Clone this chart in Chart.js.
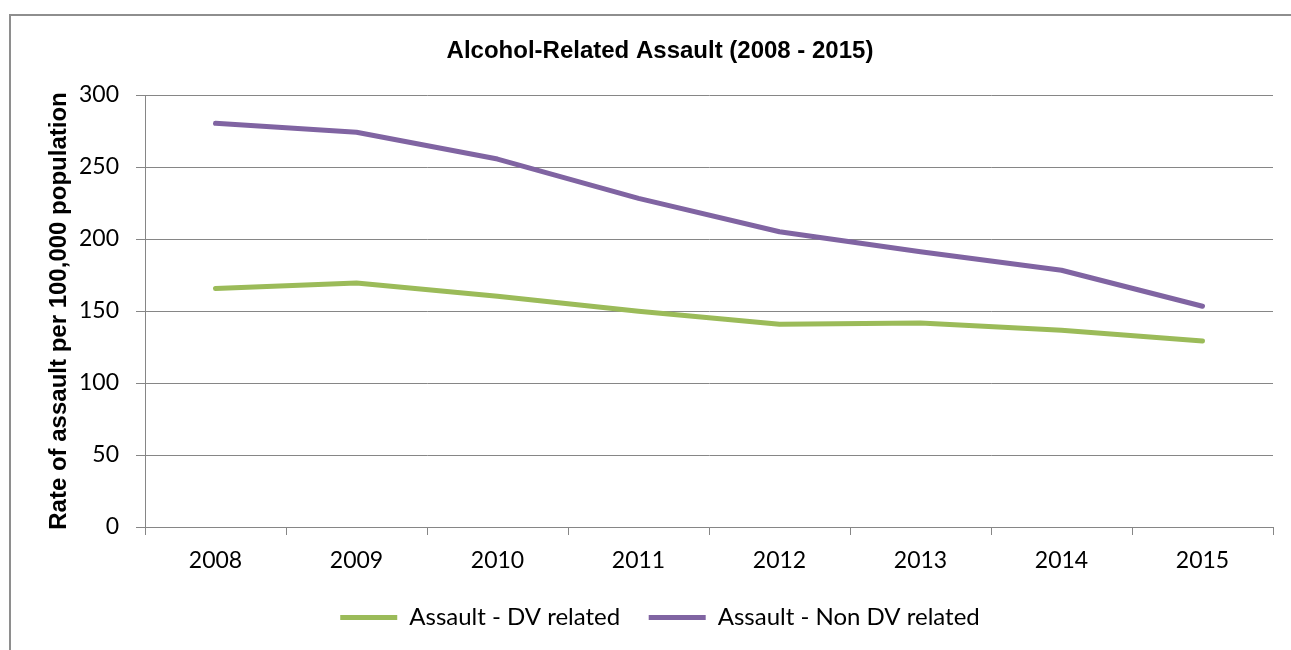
<!DOCTYPE html>
<html>
<head>
<meta charset="utf-8">
<script src="https://cdn.jsdelivr.net/npm/chart.js@4/dist/chart.umd.min.js"></script>
<style>
  html, body { margin: 0; padding: 0; background: #ffffff; overflow: hidden; }
  #wrap { position: relative; width: 1291px; height: 650px; }
  #frame { position: absolute; left: 9px; top: 14px; width: 1400px; height: 700px;
           border-left: 2px solid #8e8e8e; border-top: 2px solid #8e8e8e; box-sizing: border-box; }
  #c { position: absolute; left: 0; top: 0; }
</style>
</head>
<body>
<div id="wrap">
  <div id="frame"></div>
  <canvas id="c" width="1291" height="650"></canvas>
</div>
<script>
const categories = ['2008', '2009', '2010', '2011', '2012', '2013', '2014', '2015'];
const dvRelated = [165.6, 169.5, 160.3, 149.8, 140.8, 141.7, 136.6, 129.2];
const nonDvRelated = [280.3, 274.1, 255.5, 228.2, 205.0, 191.1, 178.3, 153.3];
const seriesNames = ['Assault - DV related', 'Assault - Non DV related'];
const chartTitle = 'Alcohol-Related Assault (2008 - 2015)';
const yAxisTitle = 'Rate of assault per 100,000 population';

const GRID = '#868686';
const tickFont = { family: 'Lato, "Open Sans", sans-serif', size: 23 };
const legendFont = { family: 'Lato, "Open Sans", sans-serif', size: 24 };

new Chart(document.getElementById('c'), {
  type: 'line',
  data: {
    labels: categories,
    datasets: [
      { label: seriesNames[0], data: dvRelated, borderColor: '#9BBB59', backgroundColor: '#9BBB59',
        borderWidth: 5, pointRadius: 0, pointHoverRadius: 0, tension: 0,
        borderCapStyle: 'round', borderJoinStyle: 'round' },
      { label: seriesNames[1], data: nonDvRelated, borderColor: '#8064A2', backgroundColor: '#8064A2',
        borderWidth: 5, pointRadius: 0, pointHoverRadius: 0, tension: 0,
        borderCapStyle: 'round', borderJoinStyle: 'round' }
    ]
  },
  options: {
    responsive: false,
    animation: false,
    events: [],
    layout: { padding: { left: 47, right: 18, top: 0, bottom: 10.5 } },
    plugins: {
      title: {
        display: true, text: chartTitle, color: '#000',
        font: { family: '"Liberation Sans", Arial, sans-serif', size: 24, weight: 'bold', lineHeight: 1.2 },
        padding: { top: 36.6, bottom: 29.6 }
      },
      legend: {
        display: true, position: 'bottom',
        labels: {
          color: '#000', font: legendFont, padding: 28.5,
          usePointStyle: true, pointStyle: 'line', pointStyleWidth: 57, boxWidth: 57
        }
      },
      tooltip: { enabled: false }
    },
    scales: {
      x: {
        type: 'category', offset: true,
        grid: { display: true, offset: true, drawOnChartArea: false, drawTicks: true, tickLength: 8, color: GRID, lineWidth: 1 },
        border: { display: true, color: GRID, width: 1 },
        ticks: { color: '#000', font: tickFont, padding: 12, maxRotation: 0, autoSkip: false },
        afterFit: s => { s.height = 50; }
      },
      y: {
        min: 0, max: 300,
        grid: { display: true, drawOnChartArea: true, drawTicks: true, tickLength: 9, color: GRID, lineWidth: 1 },
        border: { display: true, color: GRID, width: 1 },
        ticks: { stepSize: 50, color: '#000', font: tickFont, padding: 17 },
        title: {
          display: true, text: yAxisTitle, color: '#000',
          font: { family: '"Liberation Sans", Arial, sans-serif', size: 24, weight: 'bold', lineHeight: 1 },
          padding: { top: 0, bottom: 0 }
        },
        afterFit: s => { s.width = 98; }
      }
    }
  }
});
</script>
</body>
</html>
